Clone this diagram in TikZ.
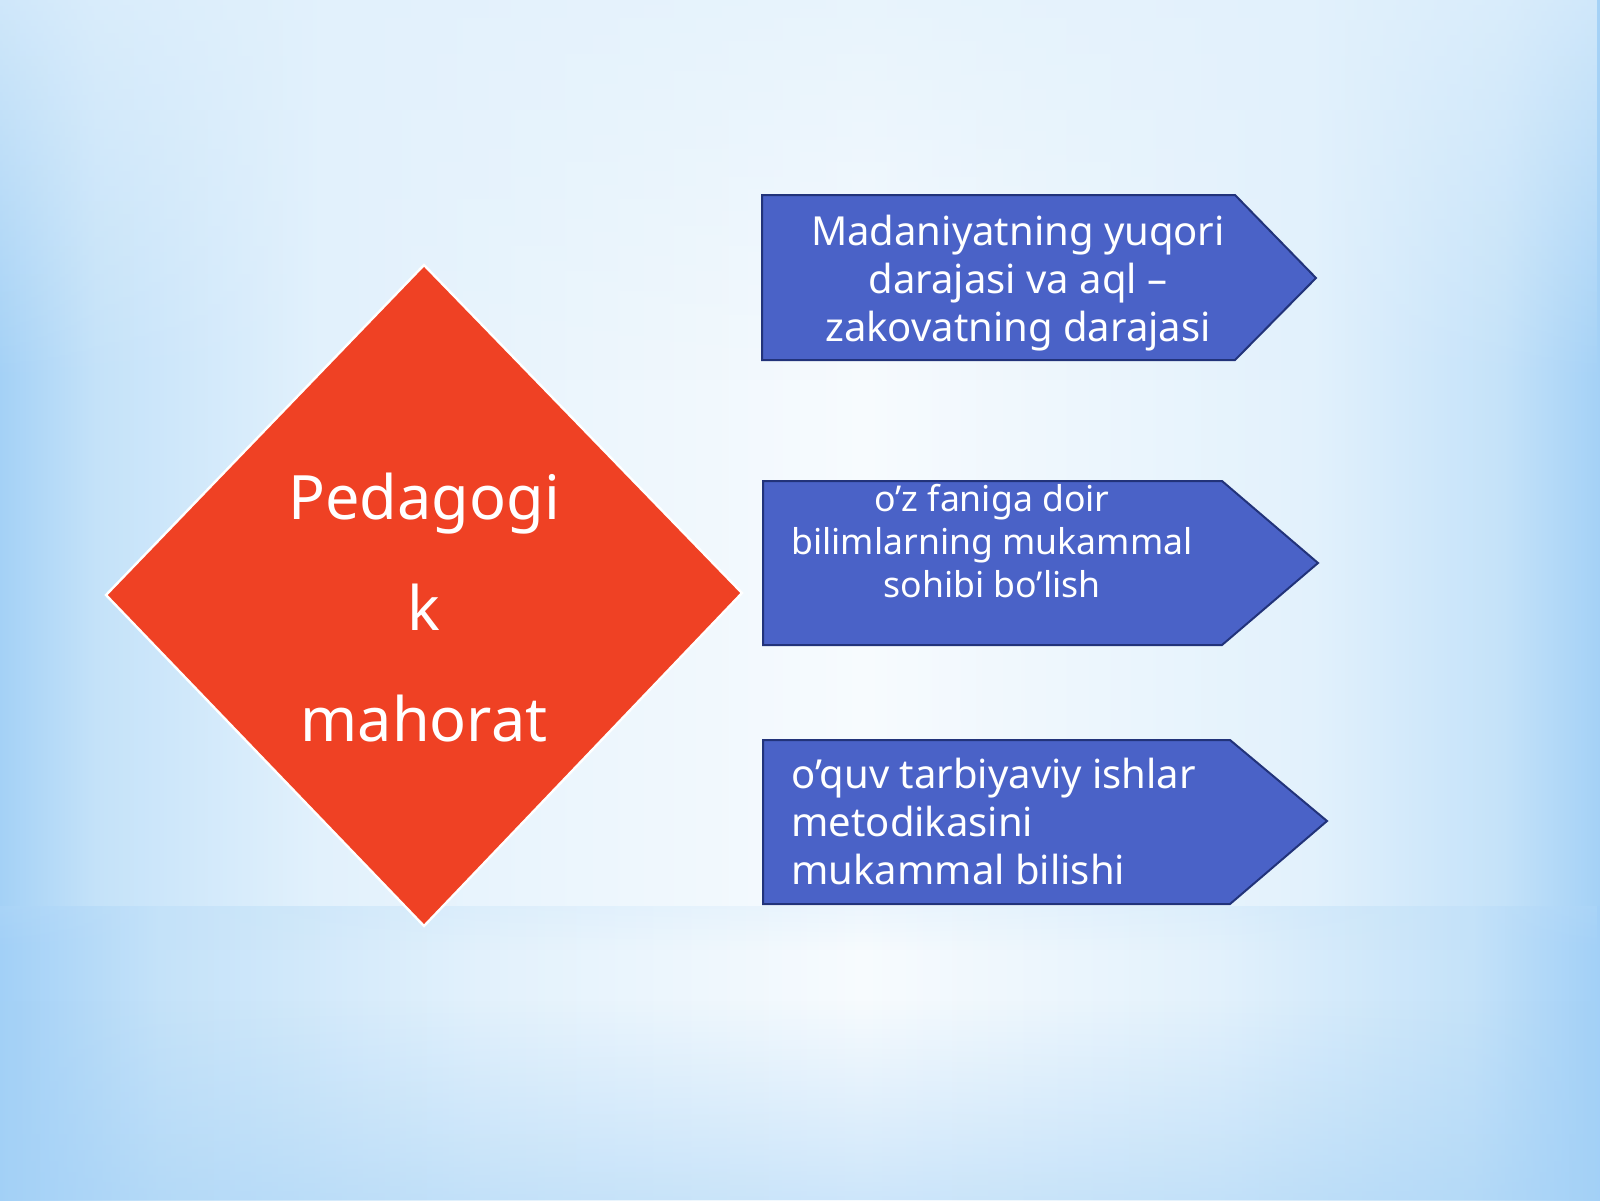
\documentclass[tikz,border=0pt]{standalone}
\usepackage{fontspec}
\setmainfont{Noto Sans}
\usetikzlibrary{fadings}
\definecolor{bgA}{HTML}{A4D1F6}
\definecolor{bgB}{HTML}{C4E2F9}
\definecolor{bgC}{HTML}{E2F1FC}
\definecolor{bgD}{HTML}{F7FBFE}
\definecolor{bgE}{HTML}{A2D0F7}
\definecolor{diamondred}{HTML}{EF4124}
\definecolor{boxblue}{HTML}{4A62C7}
\definecolor{boxline}{HTML}{22337A}
\pgfdeclarehorizontalshading{bgh}{100bp}{color(0bp)=(bgA); color(25bp)=(bgA); color(28bp)=(bgB); color(35bp)=(bgC); color(52bp)=(bgD); color(66bp)=(bgC); color(72bp)=(bgB); color(75bp)=(bgA); color(100bp)=(bgA)}
\pgfdeclarehorizontalshading{bgl}{100bp}{color(0bp)=(bgE); color(25bp)=(bgE); color(30bp)=(bgB); color(40bp)=(bgC); color(52bp)=(bgD); color(63bp)=(bgC); color(71bp)=(bgB); color(75bp)=(bgE); color(100bp)=(bgE)}
\tikzfading[name=fadetop, top color=transparent!0, bottom color=transparent!100]
\tikzfading[name=fadebottom, top color=transparent!100, bottom color=transparent!0]
\tikzfading[name=fademid, top color=transparent!100, middle color=transparent!0, bottom color=transparent!100]
\tikzset{
  boxshape/.style={fill=boxblue, draw=boxline, line width=1pt, line join=miter},
  boxtext/.style={text=white, inner sep=0pt, font=\fontsize{20pt}{24pt}\selectfont},
  boxtextsmall/.style={text=white, inner sep=0pt, font=\fontsize{17.8pt}{21.5pt}\selectfont},
  dtext/.style={text=white, inner sep=0pt, font=\fontsize{30.6pt}{55.5pt}\selectfont}
}
\begin{document}
\begin{tikzpicture}[x=0.5pt, y=-0.5pt]
\useasboundingbox (0,0) rectangle (1600,1200);
% background
\shade[shading=bgh] (0,0) rectangle (1600,906);
\shade[shading=bgl] (0,906) rectangle (1600,1200);
\fill[bgC, path fading=fadetop, opacity=0.7] (0,0) rectangle (1600,380);
\fill[bgB, path fading=fademid, opacity=0.3] (0,805) rectangle (1600,865);
\fill[bgB, path fading=fadetop, opacity=0.2] (0,906) rectangle (1600,950);
\fill[bgA, path fading=fadebottom, opacity=0.5] (0,1000) rectangle (1600,1200);
% diamond
\coordinate (dT) at (424,265);
\coordinate (dR) at (742,593);
\coordinate (dB) at (424,926);
\coordinate (dL) at (106,595);
\path[fill=diamondred, draw=white, line width=1.2pt] (dT) -- (dR) -- (dB) -- (dL) -- cycle;
\node[dtext, align=center] (dlabel) at (424,608) {Pedagogi\\k\\mahorat};
% box 1
\path[boxshape] (762,195) -- (1235,195) -- (1316,278) -- (1235,360) -- (762,360) -- cycle;
\node[boxtext, align=center] (t1) at (1018,283) {Madaniyatning yuqori\\darajasi va aql –\\zakovatning darajasi};
% box 2
\path[boxshape] (763,481) -- (1222,481) -- (1318,563) -- (1222,645) -- (763,645) -- cycle;
\node[boxtextsmall, align=center] (t2) at (992,541) {o’z faniga doir\\bilimlarning mukammal\\sohibi bo’lish};
% box 3
\path[boxshape] (763,740) -- (1230,740) -- (1327,821) -- (1230,904) -- (763,904) -- cycle;
\node[boxtext, align=left, anchor=west] (t3) at (791,821) {o’quv tarbiyaviy ishlar\\metodikasini\\mukammal bilishi};
\end{tikzpicture}
\end{document}
